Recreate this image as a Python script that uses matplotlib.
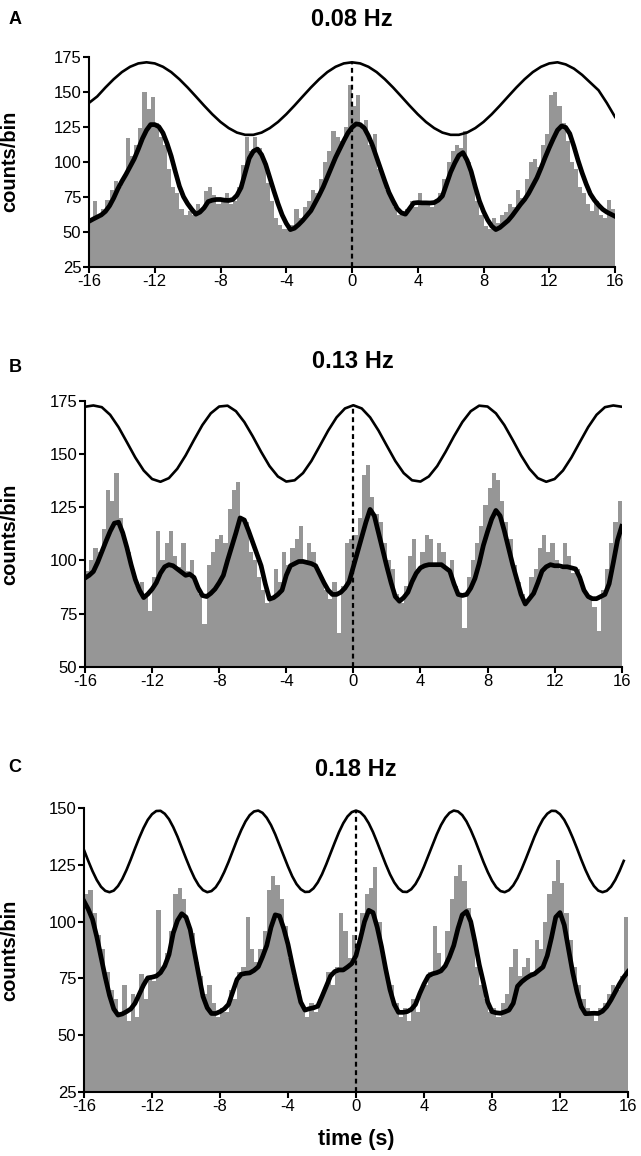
import numpy as np
import matplotlib
matplotlib.use("Agg")
import matplotlib.pyplot as plt

plt.rcParams['font.family'] = ['Liberation Sans', 'DejaVu Sans']
plt.rcParams['axes.unicode_minus'] = False

W, H = 641, 1156

# time axes
t_bins = np.arange(-16, 16, 0.25) + 0.125    # 128 histogram bins
t_half = np.arange(-16, 16.01, 0.5)          # 65 points (A, B stimulus)
t_quarter = np.arange(-16, 16.01, 0.25)      # 129 points (smoothed lines)
t_stim_c = np.arange(-16, 15.99, 0.25)       # 128 points (C stimulus)

# ---------- A: 0.08 Hz ----------
hist_a = [58, 72, 60, 66, 73, 80, 86, 82,
          88, 117, 104, 112, 124, 150, 138, 146,
          128, 118, 112, 95, 82, 78, 66, 62,
          65, 62, 70, 66, 79, 82, 76, 70,
          74, 78, 70, 72, 82, 98, 118, 108,
          118, 110, 100, 85, 72, 60, 55, 52,
          52, 55, 66, 60, 68, 72, 80, 78,
          88, 100, 108, 122, 118, 115, 125, 155,
          140, 148, 125, 130, 112, 120, 95, 90,
          80, 75, 68, 62, 64, 66, 72, 68,
          78, 72, 70, 68, 72, 78, 88, 100,
          108, 112, 110, 122, 100, 88, 72, 62,
          54, 52, 60, 56, 62, 64, 70, 68,
          80, 74, 88, 100, 102, 96, 112, 120,
          148, 150, 140, 128, 115, 100, 95, 82,
          78, 70, 65, 72, 62, 60, 73, 66]
smooth_a = [57.4, 59, 60.5, 62, 64.5, 68.5, 74, 80.5,
            86, 91, 96.5, 102, 109, 116.5, 122.5, 126.5,
            126.5, 125, 120.5, 113, 104, 93, 82.5, 75,
            70, 66, 62.5, 64, 67, 71.5, 72.5, 73,
            73, 72.5, 72.3, 73, 76, 81.5, 92, 102.5,
            107.5, 109, 105, 98, 88.5, 79, 70, 62,
            56, 51.5, 52.5, 55, 58, 61.5, 65, 70.5,
            76, 82, 89, 96, 103, 109, 115, 120.5,
            124.5, 127, 126.5, 124, 118.5, 111.5, 103, 94.5,
            86, 78, 72, 66.5, 63.5, 62.5, 66.5, 70.5,
            70.8, 70.6, 70.6, 70.5, 70.8, 72.5, 75.5, 84,
            92.5, 99, 104.5, 106.5, 101, 93, 82, 72,
            64.5, 58.5, 54, 51.5, 53, 55.5, 58, 61.5,
            65.5, 69.5, 73, 77.5, 83, 88.5, 95.5, 103,
            110, 116.5, 122.5, 125.5, 124.5, 120, 111, 101,
            92, 84, 77, 72.5, 69, 66, 64, 62.5,
            61]
stim_a = [142, 146.6, 153.0, 158.9, 164.0, 167.8, 170.2, 171, 170.2, 167.8, 164.0,
          158.9, 153.0, 146.6, 140.1, 133.9, 128.4, 124.0, 120.8, 119.2, 119.2,
          120.8, 124.0, 128.4, 133.9, 140.1, 146.6, 153.0, 158.9, 164.0, 167.8,
          170.2, 171, 170.2, 167.8, 164.0, 158.9, 153.0, 146.6, 140.1, 133.9,
          128.4, 124.0, 120.8, 119.2, 119.2, 120.8, 124.0, 128.4, 133.9, 140.1,
          146.6, 153.0, 158.9, 164.0, 167.8, 170.2, 171, 169.5, 166.5, 162.0,
          156.5, 151.0, 142.0, 132.0]

# ---------- B: 0.13 Hz ----------
hist_b = [95, 100, 106, 104, 115, 133, 128, 141,
          120, 110, 104, 96, 88, 90, 84, 76,
          92, 114, 100, 108, 114, 102, 97, 108,
          95, 100, 90, 84, 70, 98, 104, 110,
          112, 108, 124, 133, 137, 120, 118, 104,
          100, 92, 86, 80, 82, 96, 90, 104,
          98, 106, 110, 116, 100, 108, 104, 96,
          92, 86, 82, 90, 66, 88, 108, 110,
          112, 120, 140, 145, 130, 122, 118, 108,
          100, 96, 84, 80, 88, 102, 110, 96,
          104, 112, 110, 98, 108, 104, 96, 100,
          88, 84, 68, 92, 100, 108, 116, 126,
          134, 141, 138, 128, 118, 110, 98, 90,
          84, 80, 92, 96, 106, 112, 104, 108,
          100, 96, 108, 102, 94, 96, 88, 84,
          82, 78, 67, 86, 96, 108, 118, 128]
smooth_b = [91.7, 93, 94.8, 99, 104, 109, 113.7, 117.5,
            118, 113, 106, 98, 91, 86, 82.5, 84.2,
            86.5, 89.5, 94, 97, 98, 97.5, 96, 94.5,
            93, 93.5, 92, 87, 83.5, 83, 84.5, 86.5,
            89.5, 93, 100, 106.5, 113, 120, 119, 114,
            108.5, 103, 97.5, 89, 81.8, 82.5, 84, 86,
            93, 97.5, 98.5, 99.5, 99.5, 99, 98.5, 97.5,
            93.5, 89.5, 86, 84, 84, 85, 87, 90,
            97, 104, 111, 118, 124, 121, 113, 105,
            97, 89.5, 83, 80.8, 82.5, 85, 90, 94,
            96.5, 97.5, 98, 98, 98, 98, 96.5, 95,
            89, 84, 83.5, 84, 87, 91.5, 98.5, 107,
            113.5, 119.5, 123.5, 121, 114, 106, 98, 91,
            84, 79.5, 82, 84.5, 89.5, 95, 97, 98,
            97.5, 97.5, 97, 97, 96.5, 96, 92, 86,
            83, 82, 82, 83, 84, 89, 99, 109.5,
            116]
stim_b = [172.3, 172.9, 172.1, 168.5, 162.7, 155.6, 148.4, 142.3, 138.3, 137.0,
          138.7, 143.1, 149.4, 156.7, 163.7, 169.2, 172.4, 172.8, 170.2, 165.1,
          158.4, 151.1, 144.4, 139.5, 137.1, 137.7, 141.1, 146.8, 153.9, 161.1,
          167.3, 171.5, 173, 171.5, 167.3, 161.1, 153.9, 146.8, 141.1, 137.7,
          137.1, 139.5, 144.4, 151.1, 158.4, 165.1, 170.2, 172.8, 172.4, 169.2,
          163.7, 156.7, 149.4, 143.1, 138.7, 137.0, 138.3, 142.3, 148.4, 155.6,
          162.7, 168.5, 172.1, 172.9, 172.3]

# ---------- C: 0.18 Hz ----------
hist_c = [112, 114, 104, 94, 88, 78, 70, 66,
          60, 72, 56, 68, 58, 77, 66, 76,
          74, 105, 80, 86, 96, 112, 115, 110,
          100, 95, 82, 76, 68, 72, 64, 58,
          62, 60, 70, 66, 78, 80, 102, 88,
          82, 88, 96, 114, 120, 116, 110, 98,
          84, 76, 70, 62, 58, 64, 60, 66,
          70, 78, 72, 80, 104, 96, 84, 94,
          88, 104, 112, 115, 124, 100, 84, 74,
          72, 64, 58, 62, 56, 66, 60, 70,
          72, 78, 98, 86, 80, 96, 110, 120,
          125, 118, 106, 94, 80, 72, 66, 60,
          62, 58, 64, 68, 80, 88, 76, 80,
          84, 78, 92, 88, 100, 112, 118, 127,
          117, 104, 92, 80, 72, 66, 62, 60,
          56, 62, 64, 68, 72, 70, 76, 102]
smooth_c = [109, 105.5, 101, 93.4, 84.5, 75.5, 67.5, 61.5,
            58.8, 59.3, 60.3, 61.5, 64, 68, 72, 75.2,
            75.5, 76, 77.5, 80.5, 85.5, 95, 100.5, 103.5,
            102, 96.5, 86.5, 76.5, 67, 62, 59.5, 59.5,
            60.3, 61.5, 63.5, 69, 74.5, 76.8, 77.2, 77.4,
            78.5, 80.1, 84.5, 89.5, 97.5, 103, 102.5, 97,
            90, 81, 72.5, 64.5, 61, 61.6, 62, 62.7,
            67, 71.5, 76, 78, 78.7, 78.7, 80, 81.5,
            85, 92.3, 100, 105, 104, 97.5, 89, 79,
            70, 63.5, 60, 60, 60.3, 61.3, 63.5, 68.3,
            72.5, 76, 77, 77.5, 78.3, 80.5, 84.5, 89.5,
            97, 103, 104.5, 100, 91, 81, 73, 64.5,
            60.3, 59.8, 59.6, 60.2, 61, 64, 71.5, 73.5,
            75, 76.2, 77, 78.5, 80, 85, 93, 102,
            104, 98.5, 88, 77.5, 69, 62.5, 59.4, 59.5,
            59.6, 59.5, 60.5, 62.5, 65.5, 69, 72.5, 75.5,
            78]
stim_c = [131.6, 126.8, 122.3, 118.4, 115.4, 113.6, 113.0, 113.7, 115.7, 118.8,
          122.8, 127.4, 132.3, 137.0, 141.3, 144.9, 147.4, 148.8, 148.9, 147.6,
          145.2, 141.7, 137.5, 132.7, 127.9, 123.3, 119.2, 116.0, 113.9, 113.0,
          113.5, 115.2, 118.1, 121.9, 126.3, 131.2, 136.0, 140.4, 144.2, 147.0,
          148.6, 149.0, 148.0, 145.8, 142.6, 138.5, 133.8, 129.0, 124.3, 120.0,
          116.6, 114.3, 113.1, 113.2, 114.7, 117.3, 120.9, 125.3, 130.1, 134.9,
          139.5, 143.4, 146.4, 148.3,
          149.0, 148.3, 146.4, 143.4, 139.5, 134.9, 130.1, 125.3, 120.9, 117.3,
          114.7, 113.2, 113.1, 114.3, 116.6, 120.0, 124.3, 129.0, 133.8, 138.5,
          142.6, 145.8, 148.0, 149.0, 148.6, 147.0, 144.2, 140.4, 136.0, 131.2,
          126.3, 121.9, 118.1, 115.2, 113.5, 113.0, 113.9, 116.0, 119.2, 123.3,
          127.9, 132.7, 137.5, 141.7, 145.2, 147.6, 148.9, 148.8, 147.4, 144.9,
          141.3, 137.0, 132.3, 127.4, 122.8, 118.8, 115.7, 113.7, 113.0, 113.6,
          115.4, 118.4, 122.3, 126.8]

# letter, title, data, y range, y ticks, axes box in pixels (left, top, right, bottom),
# title y, letter y
panels = [
    ("A", "0.08 Hz", hist_a, (t_quarter, smooth_a), (t_half, stim_a), (25, 175),
     [25, 50, 75, 100, 125, 150, 175], (89, 56.7, 615, 266.7), 19, 19),
    ("B", "0.13 Hz", hist_b, (t_quarter, smooth_b), (t_half, stim_b), (50, 175),
     [50, 75, 100, 125, 150, 175], (85, 401, 621.7, 666.7), 362, 367),
    ("C", "0.18 Hz", hist_c, (t_quarter, smooth_c), (t_stim_c, stim_c), (25, 150),
     [25, 50, 75, 100, 125, 150], (84, 808.3, 628, 1091.7), 769, 768),
]

fig = plt.figure(figsize=(W / 100, H / 100), dpi=100)

for letter, title, hist, smooth, stim, ylim, yticks, box, ty, ly in panels:
    l, t, r, b = box
    ax = fig.add_axes([l / W, 1 - b / H, (r - l) / W, (b - t) / H])
    ax.bar(t_bins, np.array(hist) - ylim[0], width=0.25, bottom=ylim[0],
           color='#969696', edgecolor='none', linewidth=0)
    ax.plot(stim[0], stim[1], color='black', lw=1.9)
    ax.plot(smooth[0], smooth[1], color='black', lw=3.4, solid_joinstyle='round')
    ax.plot([0, 0], [ylim[0], max(stim[1])], color='black', lw=1.6, ls=(0, (2.2, 1.6)))
    ax.set_xlim(-16, 16)
    ax.set_ylim(*ylim)
    ax.set_xticks(range(-16, 17, 4))
    ax.set_yticks(yticks)
    for s in ['top', 'right']:
        ax.spines[s].set_visible(False)
    for s in ['left', 'bottom']:
        ax.spines[s].set_linewidth(1.5)
    ax.tick_params(direction='out', length=4.5, width=1.5, labelsize=12, pad=1)
    ax.set_ylabel("counts/bin", fontsize=14.5, fontweight='bold')
    ax.yaxis.set_label_coords((19 - l) / (r - l), 0.5)
    fig.text((l + r) / 2 / W, 1 - ty / H, title, fontsize=17, fontweight='bold',
             ha='center', va='center')
    fig.text(15 / W, 1 - ly / H, letter, fontsize=13, fontweight='bold',
             ha='center', va='center')

fig.text(356 / W, 1 - 1140 / H, "time (s)", fontsize=15.5, fontweight='bold',
         ha='center', va='center')

fig.savefig("out.png", dpi=100)
